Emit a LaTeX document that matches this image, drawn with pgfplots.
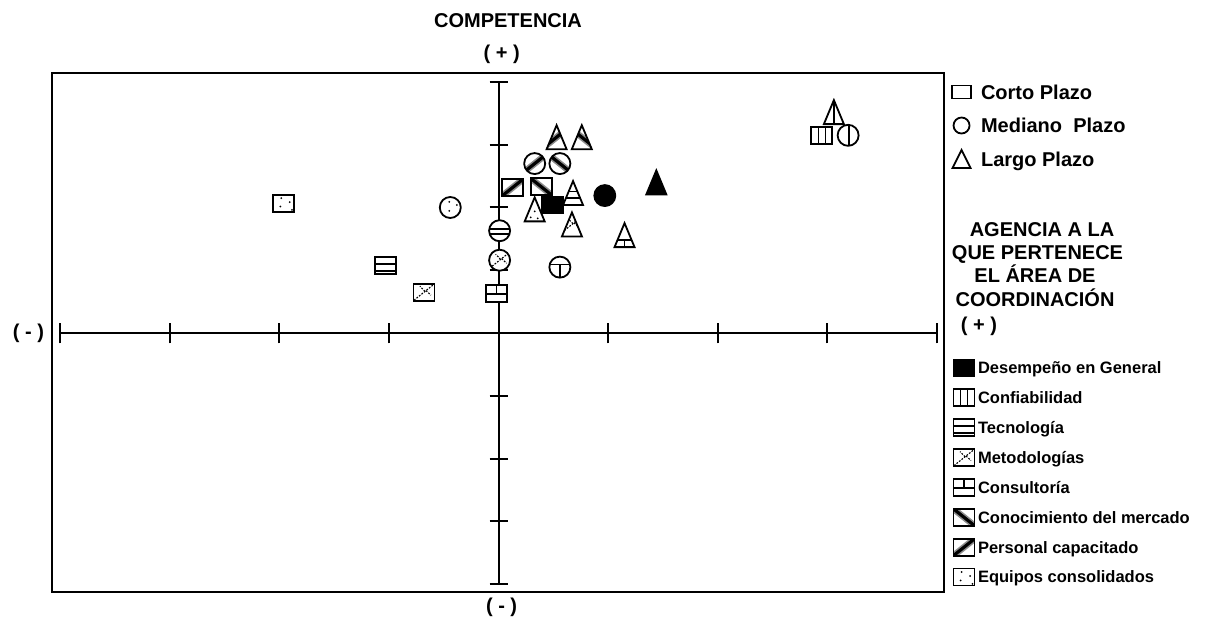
\documentclass[border=0pt]{standalone}
\usepackage{pgfplots}
\pgfplotsset{compat=1.18}
\usepackage{fontspec}
\setmainfont{Liberation Sans}

% ---------- helpers for the patterned marks ----------
\newcommand\seg[5]{\pgfsetlinewidth{#1}\pgfpathmoveto{\pgfpoint{#2}{#3}}\pgfpathlineto{\pgfpoint{#4}{#5}}\pgfusepath{stroke}}
\newcommand\dotat[2]{\pgfpathcircle{\pgfpoint{#1}{#2}}{0.5pt}\pgfusepath{fill}}
\newcommand\SQ{\pgfpathrectangle{\pgfpoint{-5.25pt}{-4.25pt}}{\pgfpoint{10.5pt}{8.5pt}}}
\newcommand\CI{\pgfpathcircle{\pgfpointorigin}{5.25pt}}
\newcommand\TR{\pgfpathmoveto{\pgfpoint{-5pt}{-6pt}}\pgfpathlineto{\pgfpoint{5pt}{-6pt}}\pgfpathlineto{\pgfpoint{0pt}{6pt}}\pgfpathclose}
\newcommand\defmark[3]{\pgfdeclareplotmark{#1}{%
  \pgfsetdash{}{0pt}\pgfsetstrokecolor{black}\pgfsetfillcolor{white}%
  #2\pgfusepath{fill}%
  \begin{pgfscope}#2\pgfusepath{clip}\pgfsetstrokecolor{black}\pgfsetfillcolor{black}#3\end{pgfscope}%
  \pgfsetdash{}{0pt}\pgfsetlinewidth{0.9pt}\pgfsetstrokecolor{black}#2\pgfusepath{stroke}}}
\newcommand\PD{\pgfpathrectangle{\pgfpoint{-8pt}{-8pt}}{\pgfpoint{16pt}{16pt}}\pgfusepath{fill}}
\newcommand\PK{\pgfsetstrokecolor{black!45}\seg{3.2pt}{-6pt}{4.8pt}{6pt}{-4.8pt}\pgfsetstrokecolor{black}\seg{1.6pt}{-6pt}{4.8pt}{6pt}{-4.8pt}}
\newcommand\PP{\pgfsetstrokecolor{black!45}\seg{3.2pt}{-6pt}{-4.8pt}{6pt}{4.8pt}\pgfsetstrokecolor{black}\seg{1.6pt}{-6pt}{-4.8pt}{6pt}{4.8pt}}
\newcommand\PM{\pgfsetdash{{0.9pt}{0.7pt}}{0pt}\seg{0.55pt}{-5pt}{-4pt}{5pt}{4pt}\seg{0.55pt}{0.5pt}{0.4pt}{-2pt}{3pt}\seg{0.55pt}{1pt}{0.8pt}{3.5pt}{-1.5pt}}

% squares
\defmark{sqD}{\SQ}{\PD}
\defmark{sqV}{\SQ}{\seg{0.8pt}{-1.75pt}{-7pt}{-1.75pt}{7pt}\seg{0.8pt}{1.75pt}{-7pt}{1.75pt}{7pt}}
\defmark{sqH}{\SQ}{\seg{0.8pt}{-7pt}{1pt}{7pt}{1pt}\seg{1pt}{-7pt}{-2.7pt}{7pt}{-2.7pt}}
\defmark{sqM}{\SQ}{\PM}
\defmark{sqC}{\SQ}{\seg{0.8pt}{-7pt}{-0.3pt}{7pt}{-0.3pt}\seg{0.8pt}{0pt}{-0.3pt}{0pt}{7pt}}
\defmark{sqK}{\SQ}{\PK}
\defmark{sqP}{\SQ}{\PP}
\defmark{sqE}{\SQ}{\dotat{-1.2pt}{2.5pt}\dotat{3pt}{0.5pt}\dotat{-1.7pt}{-1.7pt}\dotat{4.2pt}{-3.4pt}}
% circles
\defmark{ciD}{\CI}{\PD}
\defmark{ciV}{\CI}{\seg{1pt}{0.4pt}{-7pt}{0.4pt}{7pt}}
\defmark{ciH}{\CI}{\seg{0.8pt}{-7pt}{0.8pt}{7pt}{0.8pt}\seg{0.8pt}{-7pt}{-1.5pt}{7pt}{-1.5pt}}
\defmark{ciM}{\CI}{\PM}
\defmark{ciC}{\CI}{\seg{0.8pt}{-7pt}{1.3pt}{7pt}{1.3pt}\seg{0.8pt}{0pt}{1.3pt}{0pt}{-7pt}}
\defmark{ciK}{\CI}{\PK}
\defmark{ciP}{\CI}{\PP}
\defmark{ciE}{\CI}{\dotat{-0.5pt}{2.8pt}\dotat{3.3pt}{1.2pt}\dotat{-0.5pt}{-1.7pt}}
% triangles
\defmark{trD}{\TR}{\PD}
\defmark{trV}{\TR}{\seg{0.9pt}{0pt}{-7pt}{0pt}{7pt}}
\defmark{trH}{\TR}{\seg{0.8pt}{-7pt}{0.8pt}{7pt}{0.8pt}\seg{0.8pt}{-7pt}{-2.5pt}{7pt}{-2.5pt}}
\defmark{trM}{\TR}{\PM}
\defmark{trC}{\TR}{\seg{0.8pt}{-7pt}{-2.5pt}{7pt}{-2.5pt}\seg{0.8pt}{0pt}{-2.5pt}{0pt}{-7pt}}
\defmark{trK}{\TR}{\PK}
\defmark{trP}{\TR}{\PP}
\defmark{trE}{\TR}{\dotat{-2pt}{-4pt}\dotat{1.5pt}{-4.5pt}\dotat{0pt}{-1pt}}
% plain (upper legend)
\pgfdeclareplotmark{sqO}{\pgfsetdash{}{0pt}\pgfsetlinewidth{0.9pt}\pgfsetstrokecolor{black}\pgfpathrectangle{\pgfpoint{-4.75pt}{-3.25pt}}{\pgfpoint{9.5pt}{6.5pt}}\pgfusepath{stroke}}
\pgfdeclareplotmark{ciO}{\pgfsetdash{}{0pt}\pgfsetlinewidth{0.9pt}\pgfsetstrokecolor{black}\pgfpathcircle{\pgfpointorigin}{4pt}\pgfusepath{stroke}}
\pgfdeclareplotmark{trO}{\pgfsetdash{}{0pt}\pgfsetlinewidth{0.9pt}\pgfsetstrokecolor{black}\pgfpathmoveto{\pgfpoint{-4.5pt}{-4.5pt}}\pgfpathlineto{\pgfpoint{4.5pt}{-4.5pt}}\pgfpathlineto{\pgfpoint{0pt}{4.5pt}}\pgfpathclose\pgfusepath{stroke}}

\pgfplotsset{
  base/.style={at={(26pt,-296pt)}, anchor=south west, scale only axis,
    width=446pt, height=259.5pt,
    xmin=-4.074, xmax=4.065, ymin=-4.127, ymax=4.143,
    xtick=\empty, ytick=\empty, clip=false,
    legend image code/.code={\path[draw=none,fill=none] (-6pt,-6pt) rectangle (6pt,6pt); \draw[##1] plot coordinates {(0pt,0pt)};}},
  pt/.style={only marks, mark=#1, forget plot},
}

\begin{document}
\begin{tikzpicture}
\useasboundingbox (0,0) rectangle (604pt,-311pt);

\begin{axis}[base,
  axis line style={line width=0.8pt},
  legend style={at={(1.00617,0.98651)}, anchor=north west, draw=none, fill=none,
    inner sep=0pt, outer sep=0pt, row sep=4.75pt, column sep=3.75pt,
    font=\fontsize{10}{12}\selectfont\bfseries,
    nodes={inner sep=0pt, outer sep=0pt, text height=7.2pt, text depth=0pt, anchor=west},
    cells={anchor=west}}]
  % cross axes
  \draw[line width=1pt] (axis cs:-4,0) -- (axis cs:4,0);
  \draw[line width=1pt] (axis cs:0,-4) -- (axis cs:0,4);
  \pgfplotsinvokeforeach{-4,-3,-2,-1,0,1,2,3,4}{
    \draw[line width=1pt] ([yshift=-5.2pt]axis cs:#1,0) -- ([yshift=5.2pt]axis cs:#1,0);
    \draw[line width=1pt] ([xshift=-4.5pt]axis cs:0,#1) -- ([xshift=4.5pt]axis cs:0,#1);
  }
  % Corto plazo (squares)
  \addplot[pt=sqD] coordinates {(0.49,2.04)};
  \addplot[pt=sqV] coordinates {(2.95,3.15)};
  \addplot[pt=sqH] coordinates {(-1.03,1.07)};
  \addplot[pt=sqM] coordinates {(-0.68,0.65)};
  \addplot[pt=sqC] coordinates {(-0.02,0.63)};
  \addplot[pt=sqK] coordinates {(0.39,2.33)};
  \addplot[pt=sqP] coordinates {(0.13,2.32)};
  \addplot[pt=sqE] coordinates {(-1.96,2.07)};
  % Mediano plazo (circles)
  \addplot[pt=ciD] coordinates {(0.97,2.19)};
  \addplot[pt=ciV] coordinates {(3.19,3.15)};
  \addplot[pt=ciH] coordinates {(0.01,1.63)};
  \addplot[pt=ciM] coordinates {(0.01,1.16)};
  \addplot[pt=ciC] coordinates {(0.56,1.05)};
  \addplot[pt=ciK] coordinates {(0.56,2.70)};
  \addplot[pt=ciP] coordinates {(0.33,2.70)};
  \addplot[pt=ciE] coordinates {(-0.44,2.00)};
  % Largo plazo (triangles)
  \addplot[pt=trD] coordinates {(1.44,2.40)};
  \addplot[pt=trV] coordinates {(3.06,3.52)};
  \addplot[pt=trH] coordinates {(0.68,2.23)};
  \addplot[pt=trM] coordinates {(0.67,1.73)};
  \addplot[pt=trC] coordinates {(1.15,1.56)};
  \addplot[pt=trK] coordinates {(0.76,3.12)};
  \addplot[pt=trP] coordinates {(0.53,3.12)};
  \addplot[pt=trE] coordinates {(0.33,1.97)};
  % upper legend
  \addlegendimage{only marks, mark=sqO}\addlegendentry{Corto Plazo}
  \addlegendimage{only marks, mark=ciO}\addlegendentry{Mediano\ \ Plazo}
  \addlegendimage{only marks, mark=trO}\addlegendentry{Largo Plazo}
\end{axis}

\begin{axis}[base, hide axis,
  legend style={at={(1.00897,0.45472)}, anchor=north west, draw=none, fill=none,
    inner sep=0pt, outer sep=0pt, row sep=2.93pt, column sep=1pt,
    font=\fontsize{8.25}{10}\selectfont\bfseries,
    nodes={inner sep=0pt, outer sep=0pt, text height=5.9pt, text depth=0pt, anchor=west},
    cells={anchor=west}}]
  \addlegendimage{only marks, mark=sqD}\addlegendentry{Desempeño en General}
  \addlegendimage{only marks, mark=sqV}\addlegendentry{Confiabilidad}
  \addlegendimage{only marks, mark=sqH}\addlegendentry{Tecnología}
  \addlegendimage{only marks, mark=sqM}\addlegendentry{Metodologías}
  \addlegendimage{only marks, mark=sqC}\addlegendentry{Consultoría}
  \addlegendimage{only marks, mark=sqK}\addlegendentry{Conocimiento del mercado}
  \addlegendimage{only marks, mark=sqP}\addlegendentry{Personal capacitado}
  \addlegendimage{only marks, mark=sqE}\addlegendentry{Equipos consolidados}
\end{axis}

\begin{scope}[every node/.style={anchor=base, inner sep=0pt, font=\fontsize{10}{12}\selectfont\bfseries}]
  \node at (254pt,-13.58pt) {COMPETENCIA};
  \node at (250.85pt,-29.5pt) {( + )};
  \node at (14.25pt,-169.1pt) {( - )};
  \node at (250.8pt,-306.4pt) {( - )};
  \node at (489.5pt,-165.9pt) {( + )};
  \node at (521pt,-118.1pt) {AGENCIA A LA};
  \node at (518.75pt,-129.85pt) {QUE PERTENECE};
  \node at (517.5pt,-141.08pt) {EL ÁREA DE};
  \node at (517.5pt,-153.08pt) {COORDINACIÓN};
\end{scope}
\end{tikzpicture}
\end{document}
